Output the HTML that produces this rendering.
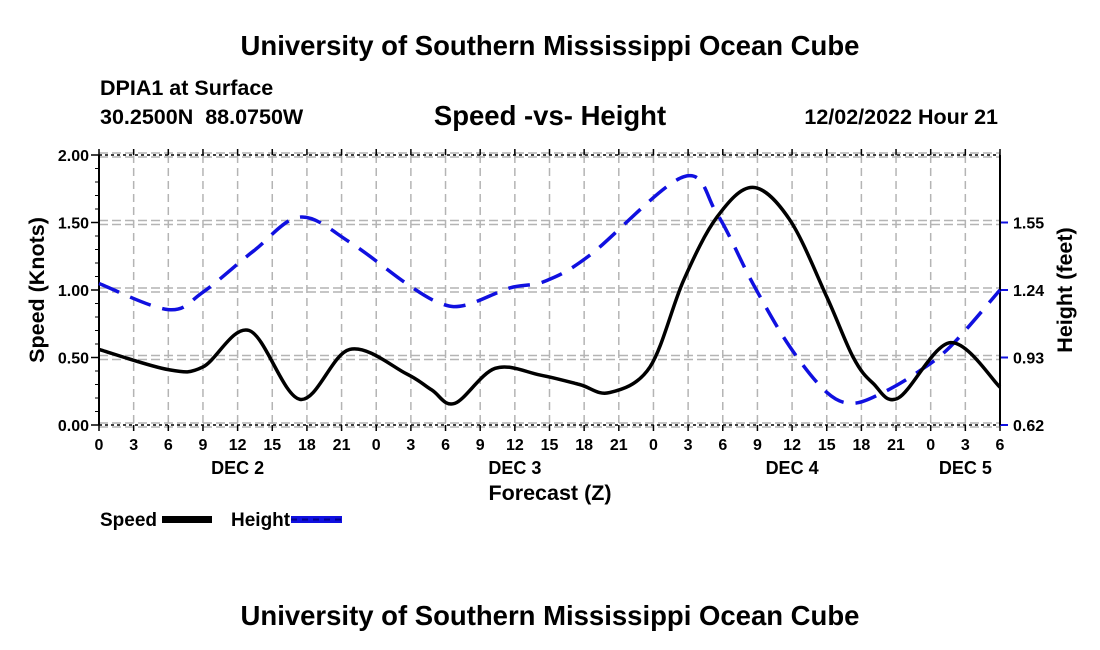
<!DOCTYPE html>
<html><head><meta charset="utf-8"><style>
html,body{margin:0;padding:0;background:#fff;}
svg{display:block;font-family:"Liberation Sans",Arial,sans-serif;font-weight:bold;}
</style></head><body>
<svg id="c" width="1100" height="650" viewBox="0 0 1100 650">
<text x="550" y="55" font-size="27.5" text-anchor="middle">University of Southern Mississippi Ocean Cube</text>
<text x="100" y="95" font-size="21.5">DPIA1 at Surface</text>
<text x="100" y="124" font-size="21.5" xml:space="preserve">30.2500N  88.0750W</text>
<text x="550" y="125" font-size="27.5" text-anchor="middle">Speed -vs- Height</text>
<text x="998" y="124" font-size="21.5" text-anchor="end">12/02/2022 Hour 21</text>
<g id="grid"></g>
<g id="axes"></g>
<g id="series"></g>
<text transform="translate(44,290) rotate(-90)" font-size="21.5" text-anchor="middle">Speed (Knots)</text>
<text transform="translate(1072,290) rotate(-90)" font-size="21.5" text-anchor="middle">Height (feet)</text>
<text x="550" y="500" font-size="21.5" text-anchor="middle">Forecast (Z)</text>
<g>
<text x="100" y="526" font-size="19">Speed</text>
<rect x="162" y="516" width="50" height="7" fill="#000"/>
<text x="231" y="526" font-size="19">Height</text>
<rect x="291" y="516" width="51" height="7" fill="#1010e0"/>
<line x1="291" y1="519.5" x2="342" y2="519.5" stroke="#000090" stroke-width="2" stroke-dasharray="6,5"/>
</g>
<text x="550" y="625" font-size="27.5" text-anchor="middle">University of Southern Mississippi Ocean Cube</text>
</svg>
<script>
const speedHours=[0,6,9,13,17.4,21.7,26.6,28.8,30.8,34.3,38.2,41.6,44.2,47.7,50.6,53.5,56.6,59.8,63,65.3,67,69.2,73.7,78];
const speedValues=[0.56,0.41,0.43,0.70,0.19,0.56,0.38,0.26,0.16,0.42,0.37,0.30,0.24,0.43,1.07,1.54,1.76,1.52,0.95,0.50,0.31,0.20,0.61,0.28];
const heightHours=[0,6,9,13.4,17.4,21.7,26.6,29.5,31.7,35.6,38.6,42.5,50.6,53.5,56.6,59.8,63,65.3,67.9,70.8,73.7,78];
const heightValues=[1.27,1.15,1.23,1.42,1.575,1.46,1.27,1.18,1.17,1.25,1.28,1.40,1.76,1.59,1.27,0.98,0.77,0.72,0.77,0.86,0.98,1.24];
const xTickLabels=["0","3","6","9","12","15","18","21","0","3","6","9","12","15","18","21","0","3","6","9","12","15","18","21","0","3","6"];
const dayLabels=["DEC 2","DEC 3","DEC 4","DEC 5"];
const dayHours=[12,36,60,75];
const leftTicks=[0,0.5,1,1.5,2];
const rightTicks=[0.62,0.93,1.24,1.55];

(function(){
const L=99,R=1000,T=155,B=425,H0=0,H1=78;
const xs=h=>L+(h-H0)/(H1-H0)*(R-L);
const ys=v=>B-v/2*(B-T);
const yh=f=>B-(f-0.62)/1.24*(B-T);
const NS="http://www.w3.org/2000/svg";
function mk(tag,parent,attrs){const e=document.createElementNS(NS,tag);for(const k in attrs)e.setAttribute(k,attrs[k]);parent.appendChild(e);return e;}
const grid=document.getElementById('grid'),axes=document.getElementById('axes'),series=document.getElementById('series');

xTickLabels.forEach((lab,i)=>{
  const x=xs(i*3);
  if(i>0&&i<xTickLabels.length-1){
    const g=mk('line',grid,{x1:x,y1:T,x2:x,y2:B,stroke:'#b4b4b4','stroke-width':1.5,'stroke-dasharray':'8,5'});
    
    
  }
  const tk=mk('line',axes,{x1:x,y1:B,x2:x,y2:B+6,stroke:'#000','stroke-width':1.5});
  
  
  const tk2=mk('line',axes,{x1:x,y1:T,x2:x,y2:T-6,stroke:'#000','stroke-width':1.5});
  
  
  const t=mk('text',axes,{x:x,y:B+25,'font-size':16,'text-anchor':'middle'});
  t.textContent=lab;
  
  
});
dayLabels.forEach((d,i)=>{
  const t=mk('text',axes,{x:xs(dayHours[i]),y:B+49,'font-size':18,'text-anchor':'middle'});
  t.textContent=d;
  
  
});
leftTicks.forEach(v=>{
  const y=ys(v);
  [-2,2].forEach(o=>{
    const g=mk('line',grid,{x1:L,y1:y+o,x2:R,y2:y+o,stroke:'#b4b4b4','stroke-width':1.5,'stroke-dasharray':'9,4'});
    
    
  });
  const tk=mk('line',axes,{x1:L-8,y1:y,x2:L,y2:y,stroke:'#000','stroke-width':1.5});
  
  
  const t=mk('text',axes,{x:L-10,y:y+6,'font-size':16,'text-anchor':'end'});
  t.textContent=v.toFixed(2);
  
  
});
for(let v=0.1;v<2;v+=0.1){
  const tk=mk('line',axes,{x1:L-4,y1:ys(v),x2:L,y2:ys(v),stroke:'#000','stroke-width':1});
  
  
}
rightTicks.forEach(f=>{
  const y=yh(f);
  const tk=mk('line',axes,{x1:R,y1:y,x2:R+8,y2:y,stroke:'#1010e0','stroke-width':2});
  
  
  const t=mk('text',axes,{x:R+13,y:y+6,'font-size':16});
  t.textContent=f.toFixed(2);
  
  
});
const topB=mk('line',axes,{x1:L,y1:T,x2:R,y2:T,stroke:'#000','stroke-width':1.5,'stroke-dasharray':'3,3'});


const botB=mk('line',axes,{x1:L,y1:B,x2:R,y2:B,stroke:'#000','stroke-width':1.5,'stroke-dasharray':'3,3'});


const la=mk('line',axes,{x1:L,y1:T,x2:L,y2:B,stroke:'#000','stroke-width':2});


const ra=mk('line',axes,{x1:R,y1:T,x2:R,y2:B,stroke:'#000','stroke-width':2});



function smooth(pts){
  let d=`M${pts[0][0]},${pts[0][1]}`;
  for(let i=0;i<pts.length-1;i++){
    const p0=pts[i-1]||pts[i],p1=pts[i],p2=pts[i+1],p3=pts[i+2]||p2;
    const c1=[p1[0]+(p2[0]-p0[0])/6,p1[1]+(p2[1]-p0[1])/6];
    const c2=[p2[0]-(p3[0]-p1[0])/6,p2[1]-(p3[1]-p1[1])/6];
    d+=` C${c1[0]},${c1[1]} ${c2[0]},${c2[1]} ${p2[0]},${p2[1]}`;
  }
  return d;
}
const hp=mk('path',series,{d:smooth(heightHours.map((h,i)=>[xs(h),yh(heightValues[i])])),fill:'none',stroke:'#1010e0','stroke-width':3.5,'stroke-dasharray':'22,12'});


const sp=mk('path',series,{d:smooth(speedHours.map((h,i)=>[xs(h),ys(speedValues[i])])),fill:'none',stroke:'#000','stroke-width':3.5});


})();
</script>
</body></html>
